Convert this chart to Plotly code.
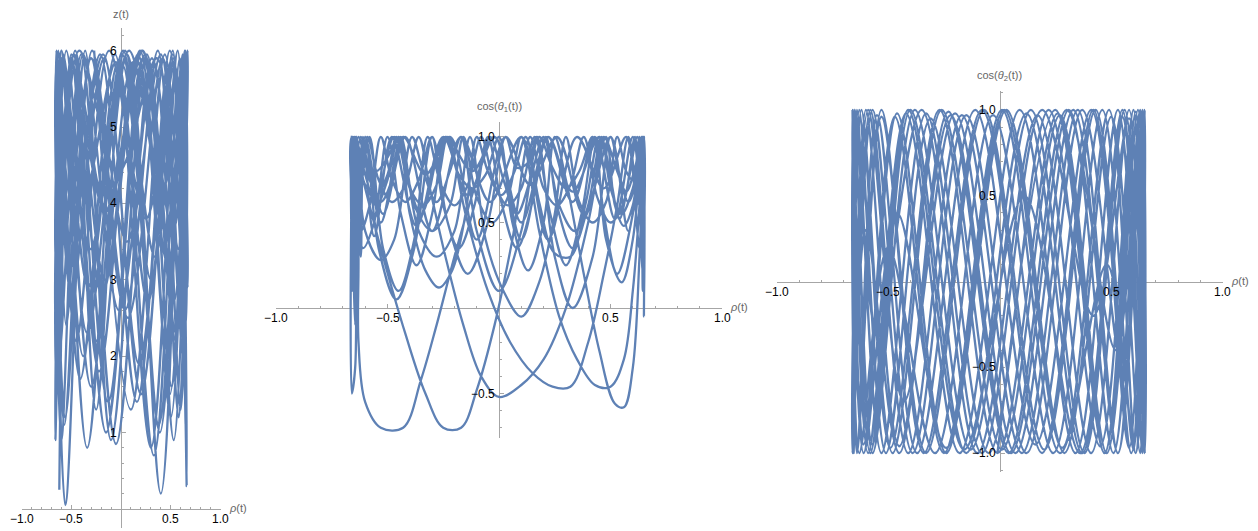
import plotly.graph_objects as go

# ---------------- data ----------------
# Panel 1: turning points of rho(t) vs z(t)
rho_1 = [
    -0.62, -0.50, -0.22, 0.15, 0.47, 0.64, 0.58, 0.33, -0.02, -0.38,
    -0.60, -0.64, -0.45, -0.12, 0.25, 0.54, 0.66, 0.52, 0.20, -0.17,
    -0.50, -0.65, -0.57, -0.30, 0.06, 0.40, 0.62, 0.63, 0.42, 0.08,
    -0.30, -0.58, -0.655, -0.48, -0.15, 0.22, 0.52, 0.67, 0.55, 0.26,
    -0.10, -0.36, -0.55, -0.64, -0.62, -0.47, -0.25, 0.02, 0.30, 0.52,
    0.64, 0.61, 0.40, 0.06, -0.31, -0.58, -0.65, -0.42, -0.03, 0.36,
    0.60, 0.66, 0.50, 0.19, -0.16, -0.47, -0.63, -0.60, -0.37, -0.05,
    0.27, 0.53, 0.65, 0.57, 0.34, 0.01, -0.34, -0.59, -0.66, -0.49,
    -0.16, 0.21, 0.51, 0.66, 0.55, 0.23, -0.15, -0.48, -0.64, -0.60,
    -0.38, -0.03, 0.33, 0.59, 0.67, 0.49, 0.16, -0.21, -0.52, -0.65,
    -0.56, -0.30, 0.04, 0.37, 0.60, 0.64, 0.45, 0.12, -0.25, -0.55,
    -0.66, -0.50, -0.19, 0.17, 0.49, 0.65, 0.58, 0.31, -0.05, -0.40,
    -0.62, -0.63, -0.41, -0.06, 0.30, 0.57, 0.67, 0.51, 0.18, -0.18,
    -0.49, -0.65, -0.56, -0.29, 0.07, 0.42, 0.63, 0.62, 0.39, 0.04,
    -0.34, -0.60, -0.655, -0.46, -0.13, 0.24, 0.53, 0.66, 0.53, 0.22,
    -0.14, -0.47, -0.64, -0.58, -0.33, 0.02, 0.38, 0.61, 0.65, 0.44,
    0.10, -0.27,
]
z_1 = [
    0.25, 5.95, 1.8, 5.9, 3.2, 6.0, 1.2, 5.85, 2.6, 5.95,
    0.9, 5.9, 2.2, 6.0, 3.8, 5.8, 0.3, 5.95, 1.5, 5.9,
    2.8, 6.0, 1.1, 5.9, 3.5, 5.95, 2.0, 5.7, 4.2, 6.0,
    1.6, 5.85, 2.9, 5.95, 1.0, 5.9, 3.6, 6.0, 2.3, 5.95,
    0.9, 6.0, 2.4, 5.9, 4.0, 5.95, 1.3, 5.8, 3.0, 6.0,
    2.1, 5.9, 0.2, 5.95, 3.4, 5.85, 1.7, 6.0, 4.4, 5.9,
    2.5, 5.95, 1.2, 6.0, 3.0, 5.95, 1.9, 6.0, 4.1, 5.85,
    2.7, 5.9, 1.1, 6.0, 3.3, 5.95, 0.8, 5.9, 2.4, 5.8,
    3.9, 6.0, 1.6, 5.95, 2.2, 5.9, 1.0, 5.95, 3.6, 6.0,
    2.0, 5.85, 0.7, 5.9, 2.9, 6.0, 1.4, 5.95, 3.1, 6.0,
    0.05, 5.9, 2.6, 6.0, 1.3, 5.95, 3.7, 5.85, 2.2, 6.0,
    0.9, 5.9, 2.8, 5.95, 1.5, 6.0, 3.4, 5.9, 0.85, 5.95,
    2.0, 6.0, 1.7, 5.95, 0.8, 6.0, 2.9, 5.9, 1.9, 5.95,
    4.0, 5.8, 1.2, 6.0, 2.5, 5.9, 3.5, 5.95, 1.0, 6.0,
    2.3, 5.9, 3.2, 6.0, 1.4, 5.95, 2.7, 5.9, 0.9, 6.0,
    3.9, 5.85, 1.8, 5.95, 2.9, 6.0, 1.1, 5.9, 2.4, 5.95,
    1.3, 6.0,
]

# Panel 2: rho(t) vs cos(theta1(t))
rho_2 = [
    -0.66, -0.655, -0.645, -0.60, -0.55, -0.50, -0.45, -0.40, -0.33, -0.27,
    -0.21, -0.15, -0.10, -0.05, 0.01, 0.07, 0.12, 0.18, 0.25, 0.32,
    0.39, 0.45, 0.50, 0.54, 0.58, 0.62, 0.645, 0.65,
    0.60, 0.53, 0.47, 0.42, 0.36, 0.30, 0.24, 0.18, 0.10, 0.00,
    -0.10, -0.17, -0.22, -0.28, -0.34, -0.39, -0.47, -0.53, -0.60, -0.64,
    -0.66, -0.65, -0.655, -0.64,
    -0.63, -0.63, -0.60, -0.53, -0.43, -0.35, -0.28, -0.20, -0.10, -0.04,
    0.02, 0.08, 0.14, 0.20, 0.27, 0.34, 0.41, 0.47, 0.53, 0.57,
    0.61, 0.64, 0.65, 0.645,
    0.62, 0.58, 0.54, 0.50, 0.42, 0.33, 0.25, 0.17, 0.13, 0.08,
    0.03, -0.05, -0.14, -0.23, -0.30, -0.36, -0.42, -0.48, -0.53, -0.58,
    -0.62, -0.65, -0.66, -0.655,
    -0.60, -0.52, -0.42, -0.33, -0.25, -0.17, -0.10, -0.02, 0.06, 0.14,
    0.20, 0.26, 0.32, 0.38, 0.44, 0.50, 0.56, 0.61, 0.645, 0.65,
    0.64, 0.645,
    0.60, 0.55, 0.48, 0.43, 0.37, 0.30, 0.23, 0.16, 0.10, 0.04,
    -0.02, -0.08, -0.14, -0.20, -0.26, -0.32, -0.38, -0.45, -0.52, -0.58,
    -0.62, -0.64, -0.655, -0.66, -0.645, -0.64, -0.63,
    -0.58, -0.53, -0.48, -0.44, -0.36, -0.28, -0.20, -0.13, -0.06, 0.02,
    0.10, 0.18, 0.25, 0.30, 0.36, 0.42, 0.48, 0.53, 0.57, 0.60,
    0.63, 0.645, 0.65,
    0.63, 0.60, 0.56, 0.52, 0.45, 0.38, 0.30, 0.25, 0.20, 0.13,
    0.06, 0.00, -0.06, -0.12, -0.18, -0.24, -0.30, -0.37, -0.44, -0.50,
    -0.56, -0.61, -0.645, -0.655, -0.65,
    -0.60, -0.55, -0.50, -0.46, -0.40, -0.34, -0.28, -0.23, -0.15, -0.05,
    0.05, 0.15, 0.24, 0.32, 0.40, 0.47, 0.53, 0.58, 0.62, 0.645,
    0.65, 0.64, 0.645,
    0.60, 0.55, 0.50, 0.46, 0.40, 0.33, 0.26, 0.21, 0.15, 0.08,
    0.01, -0.05, -0.11, -0.18, -0.25, -0.30, -0.38, -0.46, -0.54, -0.60,
    -0.64, -0.66,
    -0.60, -0.55, -0.50, -0.45, -0.38, -0.30, -0.22, -0.16, -0.10, -0.03,
    0.04, 0.10, 0.18, 0.27, 0.35, 0.43, 0.50, 0.56, 0.60, 0.63,
    0.645, 0.65, 0.64,
    0.60, 0.56, 0.52, 0.48, 0.40, 0.30, 0.20, 0.10, 0.00, -0.08,
    -0.16, -0.24, -0.31, -0.36, -0.42, -0.48, -0.54, -0.59, -0.63, -0.655,
    -0.66,
    -0.65, -0.64, -0.62, -0.60, -0.52, -0.42, -0.30, -0.17, -0.04, 0.10,
    0.22, 0.35, 0.47, 0.57, 0.63, 0.645, 0.65,
    0.64, 0.58, 0.50, 0.38, 0.26, 0.14, 0.03, -0.10, -0.22, -0.33,
    -0.43, -0.53, -0.60, -0.63, -0.65, -0.655, -0.66,
    -0.645, -0.62, -0.55, -0.47, -0.35, -0.24, -0.12, -0.02, 0.10, 0.22,
    0.33, 0.43, 0.52, 0.60, 0.64, 0.65,
    0.64, 0.62, 0.54, 0.45, 0.33, 0.22, 0.10, -0.02, -0.14, -0.25,
    -0.37, -0.48, -0.56, -0.61, -0.64, -0.655, -0.66, -0.65,
]
cos_theta1 = [
    1.0, 0.25, 1.0, 0.78, 0.60, 0.75, 1.0, 0.55, 0.22, 0.12,
    0.22, 0.55, 1.0, 0.80, 0.66, 0.80, 1.0, 0.62, 0.32, 0.30,
    0.62, 1.0, 0.76, 0.52, 0.74, 1.0, 0.30, 1.0,
    0.55, 0.20, 0.55, 1.0, 0.80, 0.70, 0.82, 1.0, 0.45, 0.10,
    0.45, 1.0, 0.80, 0.62, 0.80, 1.0, 0.40, 0.28, 0.45, 1.0,
    0.10, 1.0, 0.50, 1.0,
    0.30, -0.20, -0.55, -0.70, -0.70, -0.42, -0.10, 0.30, 0.75, 1.0,
    0.75, 0.55, 0.75, 1.0, 0.60, 0.45, 0.60, 1.0, 0.80, 0.68,
    0.82, 1.0, -0.05, 1.0,
    0.78, 0.62, 0.78, 1.0, 0.30, 0.00, 0.30, 1.0, 0.85, 0.82,
    1.0, 0.50, 0.20, 0.50, 1.0, 0.75, 0.62, 0.75, 1.0, 0.60,
    0.45, 1.0, 0.35, 1.0,
    0.70, 0.30, -0.15, -0.50, -0.70, -0.70, -0.48, -0.10, 0.40, 1.0,
    0.70, 0.60, 0.72, 1.0, 0.65, 0.50, 0.62, 1.0, 0.20, 1.0,
    0.55, 1.0,
    0.40, 0.15, 0.40, 1.0, 0.55, 0.25, 0.55, 1.0, 0.70, 0.60,
    0.72, 1.0, 0.72, 0.60, 0.72, 1.0, 0.40, 0.10, 0.35, 1.0,
    0.70, 0.60, 1.0, -0.50, -0.35, 0.20, 1.0,
    0.75, 0.62, 0.75, 1.0, 0.45, 0.30, 0.45, 1.0, 0.40, 0.10,
    -0.05, 0.15, 0.55, 1.0, 0.62, 0.50, 0.62, 1.0, 0.80, 0.75,
    1.0, 0.10, 1.0,
    0.30, -0.35, -0.58, -0.56, -0.25, 0.20, 0.75, 1.0, 0.50, 0.22,
    0.50, 1.0, 0.78, 0.70, 0.78, 1.0, 0.55, 0.25, 0.55, 1.0,
    0.50, 0.35, 1.0, 0.15, 1.0,
    0.72, 0.66, 0.78, 1.0, 0.70, 0.60, 0.72, 1.0, 0.55, 0.10,
    -0.20, -0.38, -0.46, -0.46, -0.20, 0.20, 0.60, 1.0, 0.65, 0.55,
    1.0, 0.35, 1.0,
    0.70, 0.55, 0.70, 1.0, 0.60, 0.35, 0.60, 1.0, 0.62, 0.35,
    0.62, 1.0, 0.60, 0.35, 0.60, 1.0, 0.35, 0.05, 0.35, 1.0,
    0.40, 1.0,
    0.85, 0.80, 0.88, 1.0, 0.60, 0.45, 0.60, 1.0, 0.65, 0.50,
    0.65, 1.0, 0.45, -0.05, -0.30, -0.45, -0.46, -0.30, 0.10, 0.60,
    1.0, 0.45, 1.0,
    0.60, 0.48, 0.60, 1.0, 0.50, 0.00, -0.30, -0.45, -0.52, -0.40,
    -0.10, 0.30, 0.70, 1.0, 0.72, 0.62, 0.75, 1.0, 0.50, 0.30,
    1.0,
    0.20, 1.0, 0.30, 1.0, 0.55, 1.0, 0.45, 1.0, 0.62, 1.0,
    0.40, 1.0, 0.70, 1.0, 0.35, 1.0, 0.25,
    1.0, 0.45, 1.0, 0.55, 1.0, 0.72, 1.0, 0.40, 1.0, 0.78,
    1.0, 0.50, 1.0, 0.30, 1.0, 0.25, 1.0,
    -0.10, 1.0, 0.65, 1.0, 0.55, 1.0, 0.80, 1.0, 0.40, 1.0,
    0.62, 1.0, 0.52, 1.0, 0.60, 1.0,
    0.50, 1.0, 0.55, 1.0, 0.68, 1.0, 0.50, 1.0, 0.66, 1.0,
    0.48, 1.0, 0.42, 1.0, 0.30, 1.0, 0.45, 1.0,
]

# Panel 3: turning points of rho(t) vs cos(theta2(t))
rho_3 = [
    -0.66, -0.61, -0.46, -0.24, 0.02, 0.28, 0.49, 0.61,
    0.65, 0.59, 0.41, 0.16, -0.11, -0.37, -0.55, -0.64,
    -0.65, -0.57, -0.38, -0.13, 0.14, 0.38, 0.55, 0.64,
    0.63, 0.52, 0.30, 0.04, -0.23, -0.45, -0.60, -0.66,
    -0.62, -0.49, -0.27, -0.01, 0.26, 0.47, 0.60, 0.65,
    0.60, 0.45, 0.22, -0.05, -0.31, -0.51, -0.63, -0.65,
    -0.58, -0.41, -0.17, 0.10, 0.35, 0.53, 0.63, 0.64,
    0.55, 0.36, 0.11, -0.16, -0.41, -0.58, -0.66, -0.61,
    -0.47, -0.25, 0.01, 0.27, 0.48, 0.61, 0.65, 0.58,
    0.42, 0.19, -0.08, -0.34, -0.53, -0.64, -0.64, -0.53,
    -0.33, -0.08, 0.19, 0.42, 0.58, 0.65, 0.62, 0.48,
    0.27, 0.01, -0.26, -0.48, -0.62, -0.66, -0.57, -0.39,
    -0.15, 0.12, 0.37, 0.55, 0.64, 0.63, 0.50, 0.29,
    0.03, -0.24, -0.46, -0.61, -0.66, -0.59, -0.42, -0.18,
    0.09, 0.34, 0.53, 0.64, 0.64, 0.53, 0.33, 0.07,
    -0.20, -0.43, -0.59, -0.655, -0.60, -0.45, -0.22, 0.05,
    0.31, 0.51, 0.63, 0.65, 0.56, 0.37, 0.12, -0.15,
    -0.40, -0.57, -0.65, -0.63, -0.50, -0.29, -0.03, 0.24,
    0.46, 0.60, 0.65, 0.59, 0.43, 0.20, -0.07, -0.33,
    -0.53, -0.64, -0.65, -0.55, -0.35, -0.10, 0.17, 0.41,
    0.58, 0.65, 0.61, 0.47, 0.25, -0.01,
]
cos_theta2 = [
    1.0, -1.0, 0.98, -1.0, 1.0, -0.97, 1.0, -1.0, 0.6,
    -1.0, 1.0, -0.95, 1.0, -1.0, 0.97, -1.0, 1.0, -1.0,
    1.0, -0.98, 1.0, -1.0, 0.96, -1.0, 1.0, -0.4, 1.0, -1.0,
    0.99, -1.0, 0.3, -1.0, 1.0, -0.97, 1.0, -1.0, 0.98, -1.0,
    1.0, -1.0, 1.0, -0.96, 1.0, -1.0, 0.95, -1.0,
    1.0, -0.6, 1.0, -1.0, 0.97, -1.0, 1.0, -1.0,
    0.98, -1.0, 1.0, -1.0, 0.5, -0.98, 1.0, -1.0, 1.0, -0.95, 0.96,
    -1.0, 1.0, -1.0, 0.1, -1.0, 1.0, -0.97, 1.0, -1.0, 1.0, -1.0,
    1.0, -0.97, 1.0, -1.0, 0.98, -1.0, 1.0, -0.2, 0.95,
    -1.0, 1.0, -1.0, 0.97, -0.98, 1.0, -1.0, 1.0, -1.0,
    1.0, -1.0, 0.97, -1.0, 1.0, -0.5, 1.0, -1.0, 0.96,
    -1.0, 1.0, -0.97, 0.4, -1.0, 1.0, -1.0, 0.98, -1.0,
    1.0, -1.0, 1.0, -0.98, 0.95, -1.0, 1.0, -1.0, 0.98, -0.7,
    1.0, -1.0, 1.0, -0.96, 0.97, -1.0, 1.0, -1.0, 0.99, -1.0,
    1.0, -1.0, 0.98, -1.0, 1.0, -0.95, 1.0, -1.0,
    0.2, -1.0, 0.97, -1.0, 1.0, -0.98, 1.0, -1.0,
    1.0, -0.98, 1.0, -1.0, 0.96, -1.0, 1.0, -0.3, 1.0,
    -1.0, 0.97, -1.0, 1.0, -0.96, 0.99, -1.0, 1.0, -1.0,
]

x_ticks = [-1.0, -0.5, 0.5, 1.0]
x_ticktext = ["\u22121.0", "\u22120.5", "0.5", "1.0"]
z_ticks = [1, 2, 3, 4, 5, 6]
z_ticktext = ["1", "2", "3", "4", "5", "6"]
c1_ticks = [-0.5, 0.5, 1.0]
c1_ticktext = ["\u22120.5", "0.5", "1.0"]
c2_ticks = [-1.0, -0.5, 0.5, 1.0]
c2_ticktext = ["\u22121.0", "\u22120.5", "0.5", "1.0"]

# ---------------- layout geometry ----------------
W, H = 1258, 531
LINE = "#5E81B5"
AXC = "#A6A6A6"
FONT = "Liberation Sans, Arial, sans-serif"


def px_x(a, b):
    return [a / W, b / W]


def px_y(top, bottom):
    return [(H - bottom) / H, (H - top) / H]


def frac(dom, rng, v):
    return dom[0] + (v - rng[0]) / (rng[1] - rng[0]) * (dom[1] - dom[0])


panels = [
    dict(xd=px_x(21.5, 220.5), yd=px_y(27.7, 528.0), yr=[-0.25, 6.3],
         yt=z_ticks, ytt=z_ticktext, yminor=[round(0.2 * k, 1) for k in range(1, 32) if k % 5 != 0]),
    dict(xd=px_x(276.0, 722.0), yd=px_y(121.6, 438.0), yr=[-0.76, 1.09],
         yt=c1_ticks, ytt=c1_ticktext, yminor=[round(0.1 * k, 1) for k in range(-7, 11) if k % 5 != 0]),
    dict(xd=px_x(776.7, 1222.7), yd=px_y(91.0, 472.0), yr=[-1.11, 1.11],
         yt=c2_ticks, ytt=c2_ticktext, yminor=[round(0.1 * k, 1) for k in range(-11, 12) if k % 5 != 0]),
]
xminor = [round(0.1 * k, 1) for k in range(-10, 11) if k % 5 != 0]

data = [(rho_1, z_1), (rho_2, cos_theta1), (rho_3, cos_theta2)]

fig = go.Figure()
for i, (xs, ys) in enumerate(data):
    n = min(len(xs), len(ys))
    sfx = "" if i == 0 else str(i + 1)
    fig.add_trace(go.Scatter(
        x=xs[:n], y=ys[:n], mode="lines",
        line=dict(color=LINE, width=2.3, shape="spline", smoothing=1.0),
        xaxis="x" + sfx, yaxis="y" + sfx, hoverinfo="skip", showlegend=False,
    ))

layout = dict(
    template="none",
    width=W, height=H, autosize=False,
    margin=dict(l=0, r=0, t=0, b=0, pad=0),
    paper_bgcolor="white", plot_bgcolor="rgba(0,0,0,0)",
    showlegend=False, font=dict(family=FONT, size=12, color="#000000"),
)

TICKFONT = dict(family=FONT, size=12, color="#000000")
annotations = []
for i, p in enumerate(panels):
    sfx = "" if i == 0 else str(i + 1)
    xrng = [-1.0, 1.0]
    x0pos = frac(p["xd"], xrng, 0.0)
    y0pos = frac(p["yd"], p["yr"], 0.0)
    layout["xaxis" + sfx] = dict(
        domain=p["xd"], range=xrng, anchor="free", position=y0pos, automargin=False,
        showgrid=False, zeroline=False, showline=True, linecolor=AXC, linewidth=1,
        ticks="inside", ticklen=4, tickcolor=AXC, tickwidth=1,
        tickmode="array", tickvals=x_ticks, showticklabels=False,
        minor=dict(tickmode="array", tickvals=xminor, ticks="inside", ticklen=2,
                   tickcolor=AXC, tickwidth=1, showgrid=False),
        fixedrange=True, layer="below traces",
    )
    layout["yaxis" + sfx] = dict(
        domain=p["yd"], range=p["yr"], anchor="free", position=x0pos, automargin=False,
        showgrid=False, zeroline=False, showline=True, linecolor=AXC, linewidth=1,
        ticks="inside", ticklen=4, tickcolor=AXC, tickwidth=1,
        tickmode="array", tickvals=p["yt"], showticklabels=False,
        minor=dict(tickmode="array", tickvals=p["yminor"], ticks="inside", ticklen=2,
                   tickcolor=AXC, tickwidth=1, showgrid=False),
        fixedrange=True, layer="below traces",
    )
    xr, yr = "x" + sfx, "y" + sfx
    # tick labels drawn above the curves, as in the reference
    for v, t in zip(x_ticks, x_ticktext):
        annotations.append(dict(text=t, x=v, xref=xr, y=0.0, yref=yr,
                                xanchor="center", yanchor="top", yshift=-1,
                                showarrow=False, font=TICKFONT))
    for v, t in zip(p["yt"], p["ytt"]):
        annotations.append(dict(text=t, x=0.0, xref=xr, y=v, yref=yr,
                                xanchor="right", yanchor="middle", xshift=-2,
                                showarrow=False, font=TICKFONT))

fig.update_layout(**layout)

LBL = dict(family=FONT, size=11, color="#666666")
y_labels = ["z(t)", "cos(<i>θ</i><sub>1</sub>(t))", "cos(<i>θ</i><sub>2</sub>(t))"]
for i, p in enumerate(panels):
    sfx = "" if i == 0 else str(i + 1)
    xr, yr = "x" + sfx, "y" + sfx
    annotations.append(dict(
        text=y_labels[i], x=0.0, xref=xr, y=p["yd"][1], yref="paper",
        xanchor="center", yanchor="bottom", yshift=6, showarrow=False, font=LBL,
    ))
    annotations.append(dict(
        text="<i>ρ</i>(t)", x=1.0, xref=xr, y=0.0, yref=yr,
        xanchor="left", yanchor="middle", xshift=6, yshift=1, showarrow=False, font=LBL,
    ))
fig.update_layout(annotations=annotations)

fig.write_html("out.html")
